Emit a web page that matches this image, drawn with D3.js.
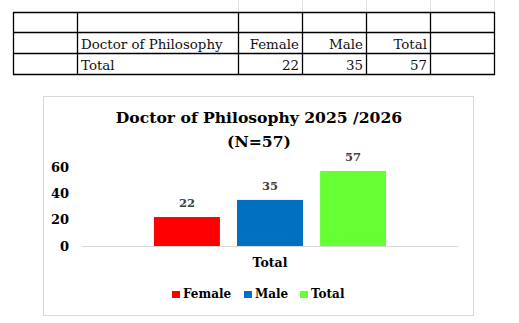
<!DOCTYPE html>
<html><head><meta charset="utf-8">
<script src="https://cdn.jsdelivr.net/npm/d3@7/dist/d3.min.js"></script>
<style>
html,body{margin:0;padding:0;background:#fff;}
svg{display:block;}
</style></head>
<body>
<svg id="c" width="519" height="323"></svg>
<script>
const categories = ["Total"];
const seriesNames = ["Female", "Male", "Total"];
const seriesValues = [22, 35, 57];
const seriesColors = ["#ff0000", "#0070c0", "#66ff33"];
const yTicks = [0, 20, 40, 60];
const tableHeader = ["Doctor of Philosophy", "Female", "Male", "Total"];
const tableRowLabel = "Total";
const titleLines = ["Doctor of Philosophy 2025 /2026", "(N=57)"];

const FONT = "'DejaVu Serif', serif";
const svg = d3.select("#c");

// ---- spreadsheet table ----
const colX = [13, 77, 238, 302, 366, 430, 494];
const rowY = [12, 32, 53, 74];
const g0 = svg.append("g");
colX.slice(2).forEach(x => g0.append("line").attr("x1", x + .5).attr("x2", x + .5).attr("y1", 0).attr("y2", rowY[0])
  .attr("stroke", "#e3e3e3"));
rowY.forEach(y => g0.append("line").attr("x1", colX[0]).attr("x2", colX[6] + 1).attr("y1", y + .5).attr("y2", y + .5)
  .attr("stroke", "#000").attr("stroke-width", 1.3));
colX.forEach(x => g0.append("line").attr("x1", x + .5).attr("x2", x + .5).attr("y1", rowY[0]).attr("y2", rowY[3] + 1)
  .attr("stroke", "#000").attr("stroke-width", 1.3));
const tstyle = s => s.attr("font-family", FONT).attr("font-size", 13.4).attr("fill", "#111");
tstyle(g0.append("text").attr("x", 81).attr("y", 49).text(tableHeader[0]));
tstyle(g0.append("text").attr("x", 81).attr("y", 70).text(tableRowLabel));
[1, 2, 3].forEach((k, i) => {
  tstyle(g0.append("text").attr("x", colX[k + 2] - 3).attr("y", 49).attr("text-anchor", "end").text(tableHeader[k]));
  tstyle(g0.append("text").attr("x", colX[k + 2] - 3).attr("y", 70).attr("text-anchor", "end").text(seriesValues[i]));
});

// ---- chart ----
const box = {x: 43, y: 96, w: 430, h: 219};
svg.append("rect").attr("x", box.x + .5).attr("y", box.y + .5).attr("width", box.w).attr("height", box.h)
  .attr("fill", "#fff").attr("stroke", "#d9d9d9");

const plot = {l: 82, r: 458, t: 167, b: 246};
const y = d3.scaleLinear().domain([0, 60]).range([plot.b, plot.t]);
const x0 = d3.scaleBand().domain(categories).range([plot.l, plot.r]).paddingInner(0).paddingOuter(0.31);
const x1 = d3.scaleBand().domain(seriesNames).range([0, x0.bandwidth()]).paddingInner(0.206).paddingOuter(0);

svg.append("text").attr("x", 259).attr("y", 123).attr("text-anchor", "middle")
  .attr("font-family", FONT).attr("font-weight", "bold").attr("font-size", 15.6).attr("fill", "#000").text(titleLines[0]);
svg.append("text").attr("x", 259).attr("y", 147).attr("text-anchor", "middle")
  .attr("font-family", FONT).attr("font-weight", "bold").attr("font-size", 15.6).attr("fill", "#000").text(titleLines[1]);

const yAxis = d3.axisLeft(y).tickValues(yTicks).tickSize(0).tickPadding(13);
const ya = svg.append("g").attr("transform", `translate(${plot.l},0)`).call(yAxis);
ya.select(".domain").remove();
ya.selectAll("text").attr("font-family", FONT).attr("font-weight", "bold").attr("font-size", 13).attr("fill", "#000");

const data = seriesNames.map((s, i) => ({s, v: seriesValues[i], c: seriesColors[i], cat: categories[0]}));
svg.append("g").selectAll("rect").data(data).join("rect")
  .attr("x", d => x0(d.cat) + x1(d.s)).attr("width", x1.bandwidth())
  .attr("y", d => y(d.v)).attr("height", d => y(0) - y(d.v)).attr("fill", d => d.c);
svg.append("g").selectAll("text").data(data).join("text")
  .attr("x", d => x0(d.cat) + x1(d.s) + x1.bandwidth() / 2).attr("y", d => y(d.v) - 10)
  .attr("text-anchor", "middle").attr("font-family", FONT).attr("font-weight", "bold").attr("font-size", 11.5)
  .attr("fill", "#404040").text(d => d.v);

const xAxis = d3.axisBottom(x0).tickSize(0).tickPadding(12);
const xa = svg.append("g").attr("transform", `translate(0,${plot.b})`).call(xAxis);
xa.select(".domain").attr("stroke", "#d9d9d9").attr("d", `M${plot.l},0.5H${plot.r}`);
xa.selectAll("text").attr("font-family", FONT).attr("font-weight", "bold").attr("font-size", 12.5).attr("fill", "#000");

const leg = svg.append("g");
const legX = [172, 244, 300];
data.forEach((d, i) => {
  leg.append("rect").attr("x", legX[i]).attr("y", 291).attr("width", 8).attr("height", 7).attr("fill", d.c);
  leg.append("text").attr("x", legX[i] + 11).attr("y", 298).attr("font-family", FONT).attr("font-weight", "bold")
    .attr("font-size", 12).attr("fill", "#000").text(d.s);
});
</script>
</body></html>
